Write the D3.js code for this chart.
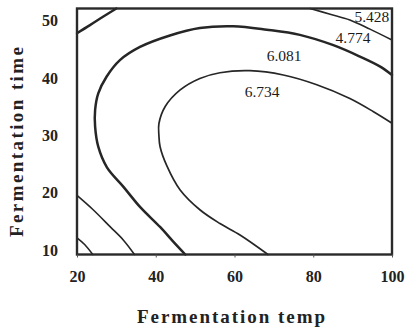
<!DOCTYPE html>
<html>
<head>
<meta charset="utf-8">
<script src="https://cdn.jsdelivr.net/npm/d3@7"></script>
<style>
  html, body { margin: 0; padding: 0; background: #fff; }
  svg { display: block; }
</style>
</head>
<body>
<svg id="chart" width="405" height="329"></svg>
<script>
// ---- data (data units: x = fermentation temp, y = fermentation time) ----
const xTicks = [20, 40, 60, 80, 100];
const yTicks = [10, 20, 30, 40, 50];
const xDomain = [20, 100];
const yDomain = [9.2, 52.1];

// contour lines
const contourCornerTL = [[20, 47.8], [23.3, 49.2], [26.7, 50.7], [30.0, 52.1]];
const contourCornerTR = [[79.2, 52.1], [84.3, 51.1], [89.3, 50.1], [94.4, 48.5], [100, 46.6]];
const contourOuter = [
  [100, 40.5], [96.9, 42.0], [91.9, 43.7], [85.1, 45.7], [76.6, 47.5], [68.2, 48.4],
  [59.7, 49.0], [51.2, 48.7], [43.6, 47.4], [36.0, 45.4], [30.9, 43.1], [27.5, 40.2],
  [25.4, 37.3], [24.6, 34.4], [24.6, 31.5], [25.4, 28.0], [27.6, 24.4], [31.8, 21.0],
  [36.0, 17.5], [41.1, 14.0], [44.5, 11.4], [47.5, 9.2]
];
const contourInner = [
  [100, 32.1], [95.3, 34.1], [89.3, 36.4], [80.9, 38.8], [72.4, 40.5], [63.9, 41.25],
  [56.3, 40.9], [51.2, 39.9], [46.2, 37.9], [42.4, 35.0], [40.8, 32.0], [40.8, 30.0],
  [41.1, 28.0], [42.8, 24.7], [46.2, 20.45], [51.2, 17.0], [56.3, 14.6], [61.4, 12.6],
  [68.5, 9.2]
];
const contourLowerLeft = [[20, 19.5], [24.1, 17.0], [28.4, 14.05], [31.8, 11.7], [34.6, 9.2]];
const contourCornerBL = [[20, 12.1], [22.0, 10.9], [24.0, 9.2]];

const contourLabels = ["5.428", "4.774", "6.081", "6.734"];
const labelX = [94.9, 90.1, 72.6, 67.0];
const labelY = [49.75, 46.1, 42.95, 36.7];

const xTitle = "Fermentation temp";
const yTitle = "Fermentation time";

// ---- drawing ----
const svg = d3.select("#chart");
const mLeft = 77, mRight = 392, mTop = 8.5, mBottom = 254.5;
const x = d3.scaleLinear().domain(xDomain).range([mLeft, mRight]);
const y = d3.scaleLinear().domain(yDomain).range([mBottom, mTop]);
const serif = "'Liberation Serif', 'Times New Roman', 'DejaVu Serif', serif";

const line = d3.line().x(d => x(d[0])).y(d => y(d[1])).curve(d3.curveCatmullRom.alpha(0.5));

const lines = [
  {pts: contourCornerTL, w: 2.4},
  {pts: contourCornerTR, w: 1.6},
  {pts: contourOuter, w: 2.5},
  {pts: contourInner, w: 1.7},
  {pts: contourLowerLeft, w: 1.6},
  {pts: contourCornerBL, w: 1.6}
];
svg.append("g").selectAll("path").data(lines).join("path")
  .attr("d", d => line(d.pts))
  .attr("fill", "none")
  .attr("stroke", "#262626")
  .attr("stroke-width", d => d.w)
  .attr("stroke-linecap", "round");

// frame
svg.append("rect")
  .attr("x", x(xDomain[0])).attr("y", y(yDomain[1]))
  .attr("width", x(xDomain[1]) - x(xDomain[0]))
  .attr("height", y(yDomain[0]) - y(yDomain[1]))
  .attr("fill", "none").attr("stroke", "#2a2a2a").attr("stroke-width", 2.4);

// bottom axis
const xAxis = d3.axisBottom(x).tickValues(xTicks).tickSize(3).tickPadding(13);
const gx = svg.append("g").attr("transform", `translate(0,${mBottom})`).call(xAxis);
gx.select(".domain").remove();
gx.selectAll("line").attr("stroke", "#555");
gx.selectAll("text").attr("font-family", serif).attr("font-size", 16)
  .attr("font-weight", "bold").attr("fill", "#222");

// left axis
const yAxis = d3.axisLeft(y).tickValues(yTicks).tickSize(0).tickPadding(19);
const gy = svg.append("g").attr("transform", `translate(${mLeft},0)`).call(yAxis);
gy.select(".domain").remove();
gy.selectAll("text").attr("font-family", serif).attr("font-size", 16)
  .attr("font-weight", "bold").attr("fill", "#222");

// contour labels
svg.append("g").selectAll("text").data(contourLabels).join("text")
  .attr("x", (d, i) => x(labelX[i]))
  .attr("y", (d, i) => y(labelY[i]))
  .attr("text-anchor", "middle")
  .attr("font-family", serif).attr("font-size", 15.5)
  .attr("fill", "#1a1a1a")
  .text(d => d);

// axis titles
svg.append("text")
  .attr("x", 231).attr("y", 323)
  .attr("text-anchor", "middle")
  .attr("font-family", serif).attr("font-size", 19).attr("font-weight", "bold")
  .attr("fill", "#222")
  .attr("textLength", 188).attr("lengthAdjust", "spacing")
  .text(xTitle);

svg.append("text")
  .attr("transform", "translate(23,142) rotate(-90)")
  .attr("text-anchor", "middle")
  .attr("font-family", serif).attr("font-size", 19).attr("font-weight", "bold")
  .attr("fill", "#222")
  .attr("textLength", 190).attr("lengthAdjust", "spacing")
  .text(yTitle);
</script>
</body>
</html>
